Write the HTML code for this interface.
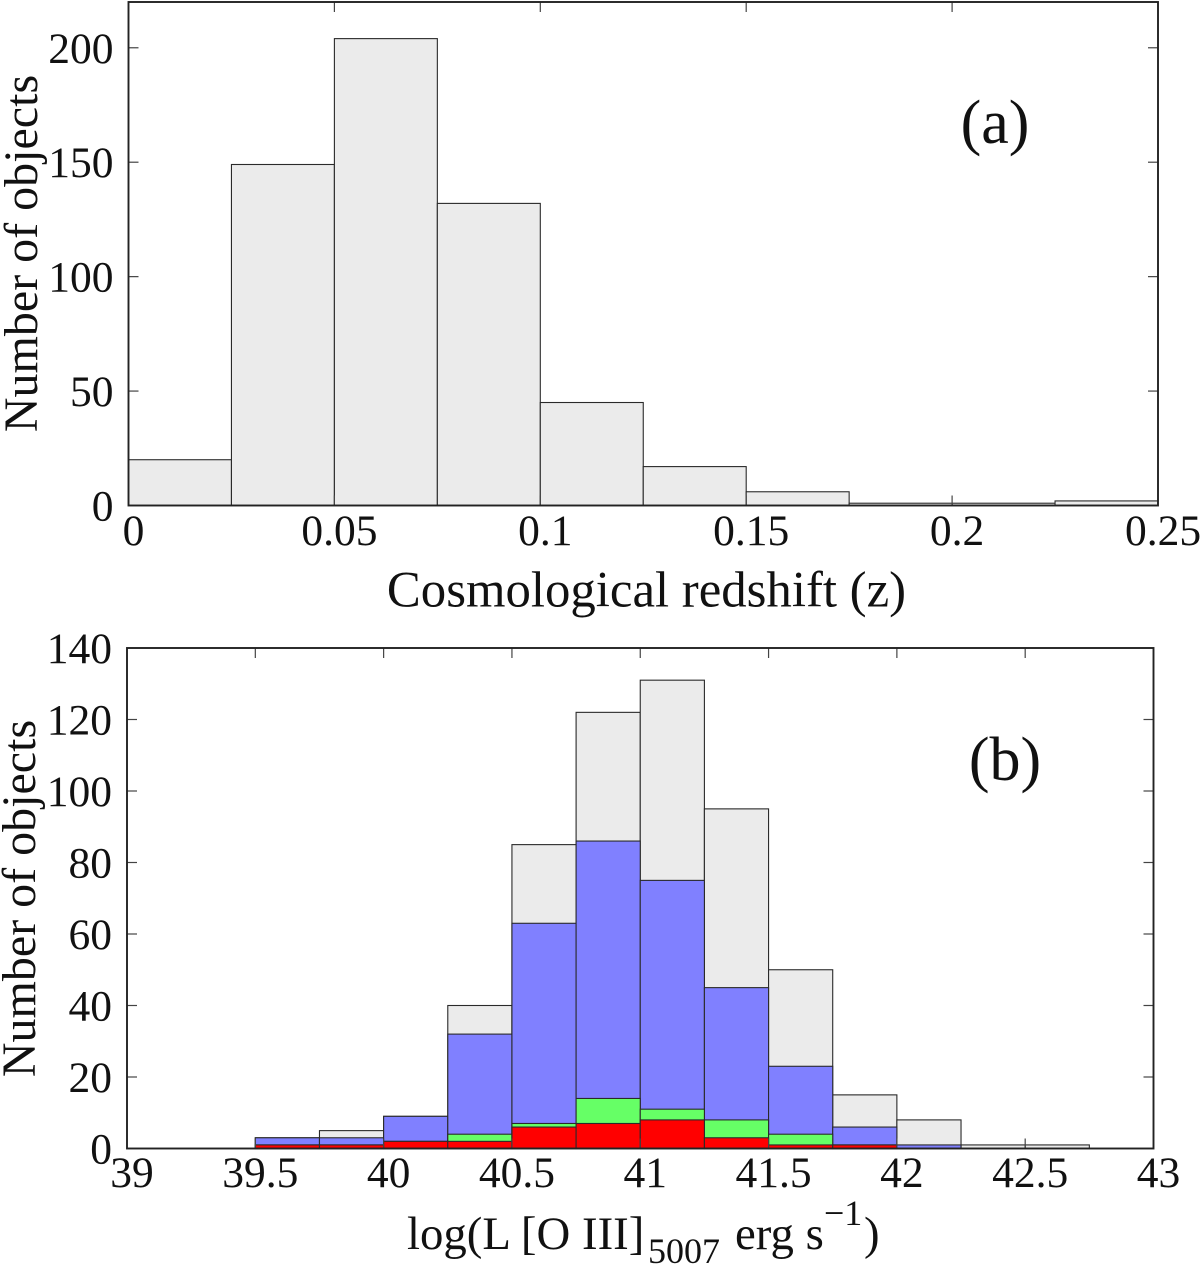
<!DOCTYPE html>
<html>
<head>
<meta charset="utf-8">
<title>Redshift and luminosity histograms</title>
<style>
html,body{margin:0;padding:0;background:#fff;}
svg{display:block;}
text{font-family:"Liberation Serif",serif;fill:#111;}
</style>
</head>
<body>
<svg id="chart" width="1200" height="1266" viewBox="0 0 1200 1266" xmlns="http://www.w3.org/2000/svg">
  <g id="panel-a"></g>
  <g id="panel-b"></g>
  <text x="646.5" y="606.5" font-size="50.8" text-anchor="middle">Cosmological redshift (z)</text>
  <text transform="translate(37 253.5) rotate(-90)" font-size="48" text-anchor="middle">Number of objects</text>
  <text x="995" y="143" font-size="62" text-anchor="middle">(a)</text>
  <text y="1249" font-size="46.8"><tspan x="407">log(L [O III]</tspan><tspan x="648" y="1263" font-size="36">5007</tspan><tspan x="735" y="1249">erg s</tspan><tspan x="824" y="1225" font-size="36">−1</tspan><tspan x="864" y="1249">)</tspan></text>
  <text transform="translate(35 898.5) rotate(-90)" font-size="48" text-anchor="middle">Number of objects</text>
  <text x="1005" y="780" font-size="62" text-anchor="middle">(b)</text>
</svg>
<script>
// Panel (a): redshift histogram
const redshiftBinStart = 0;
const redshiftBinWidth = 0.025;
const redshiftCounts = [20, 149, 204, 132, 45, 17, 6, 1, 1, 2];
const redshiftXTicks = [0, 0.05, 0.1, 0.15, 0.2, 0.25];
const redshiftXTickLabels = ["0", "0.05", "0.1", "0.15", "0.2", "0.25"];
const redshiftYTicks = [0, 50, 100, 150, 200];
const redshiftYTickLabels = ["0", "50", "100", "150", "200"];

// Panel (b): luminosity histogram, overlaid series (back to front)
const luminosityBinStart = 39.5;
const luminosityBinWidth = 0.25;
const luminosityAll = [3, 5, 9, 40, 85, 122, 131, 95, 50, 15, 8, 1, 1];
const luminosityBlue = [3, 3, 9, 32, 63, 86, 75, 45, 23, 6, 1, 0, 0];
const luminosityGreen = [1, 1, 2, 4, 7, 14, 11, 8, 4, 1, 0, 0, 0];
const luminosityRed = [1, 1, 2, 2, 6, 7, 8, 3, 1, 1, 0, 0, 0];
const luminosityXTicks = [39, 39.5, 40, 40.5, 41, 41.5, 42, 42.5, 43];
const luminosityXTickLabels = ["39", "39.5", "40", "40.5", "41", "41.5", "42", "42.5", "43"];
const luminosityYTicks = [0, 20, 40, 60, 80, 100, 120, 140];
const luminosityYTickLabels = ["0", "20", "40", "60", "80", "100", "120", "140"];

const SVG_NS = "http://www.w3.org/2000/svg";

function makeScale(d0, d1, r0, r1) {
  return function (v) { return r0 + (v - d0) * (r1 - r0) / (d1 - d0); };
}

function drawBars(root, seriesName, values, start, width, fill, sx, sy) {
  values.forEach(function (v, i) {
    if (v <= 0) return;
    const x0 = sx(start + i * width);
    const x1 = sx(start + (i + 1) * width);
    const y0 = sy(v);
    const y1 = sy(0);
    const r = document.createElementNS(SVG_NS, "rect");
    r.setAttribute("x", x0);
    r.setAttribute("y", y0);
    r.setAttribute("width", x1 - x0);
    r.setAttribute("height", y1 - y0);
    r.setAttribute("fill", fill);
    r.setAttribute("stroke", "#2a2a2a");
    r.setAttribute("stroke-width", "1.1");
    
    
    root.appendChild(r);
  });
}

function drawLine(root, x1, y1, x2, y2, stroke, w, name) {
  const l = document.createElementNS(SVG_NS, "line");
  l.setAttribute("x1", x1);
  l.setAttribute("y1", y1);
  l.setAttribute("x2", x2);
  l.setAttribute("y2", y2);
  l.setAttribute("stroke", stroke);
  l.setAttribute("stroke-width", w);
  
  
  root.appendChild(l);
}

function drawLabel(root, x, y, str, anchor, name) {
  const t = document.createElementNS(SVG_NS, "text");
  t.setAttribute("x", x);
  t.setAttribute("y", y);
  t.setAttribute("font-size", "43.5");
  t.setAttribute("text-anchor", anchor);
  
  
  t.textContent = str;
  root.appendChild(t);
}

function drawAxes(root, box, sx, sy, xTicks, xLabels, yTicks, yLabels) {
  const tickLen = 10;
  xTicks.forEach(function (v, i) {
    const x = sx(v);
    if (i > 0 && i < xTicks.length - 1) {
      drawLine(root, x, box.bottom, x, box.bottom - tickLen, "#444", 1.2, "x-tick");
      drawLine(root, x, box.top, x, box.top + tickLen, "#444", 1.2, "x-tick-top");
    }
    drawLabel(root, x + 5, box.xLabelY, xLabels[i], "middle", "x-tick-label");
  });
  yTicks.forEach(function (v, i) {
    const y = sy(v);
    if (i > 0 && y > box.top + 2) {
      drawLine(root, box.left, y, box.left + tickLen, y, "#444", 1.2, "y-tick");
      drawLine(root, box.right, y, box.right - tickLen, y, "#444", 1.2, "y-tick-right");
    }
    drawLabel(root, box.yLabelX, y + 15, yLabels[i], "end", "y-tick-label");
  });
  const f = document.createElementNS(SVG_NS, "rect");
  f.setAttribute("x", box.left);
  f.setAttribute("y", box.top);
  f.setAttribute("width", box.right - box.left);
  f.setAttribute("height", box.bottom - box.top);
  f.setAttribute("fill", "none");
  f.setAttribute("stroke", "#222");
  f.setAttribute("stroke-width", "1.9");
  
  
  root.appendChild(f);
}

const panelA = document.getElementById("panel-a");
const boxA = { left: 128.5, right: 1158, top: 2, bottom: 505.5, xLabelY: 545, yLabelX: 113.5 };
const sxA = makeScale(0, 0.25, boxA.left, boxA.right);
const syA = makeScale(0, 220, boxA.bottom, boxA.top);
drawBars(panelA, "redshift", redshiftCounts, redshiftBinStart, redshiftBinWidth, "#ebebeb", sxA, syA);
drawAxes(panelA, boxA, sxA, syA, redshiftXTicks, redshiftXTickLabels, redshiftYTicks, redshiftYTickLabels);

const panelB = document.getElementById("panel-b");
const boxB = { left: 127, right: 1153.5, top: 648, bottom: 1148.5, xLabelY: 1187, yLabelX: 112 };
const sxB = makeScale(39, 43, boxB.left, boxB.right);
const syB = makeScale(0, 140, boxB.bottom, boxB.top);
drawBars(panelB, "all-objects", luminosityAll, luminosityBinStart, luminosityBinWidth, "#ebebeb", sxB, syB);
drawBars(panelB, "blue-class", luminosityBlue, luminosityBinStart, luminosityBinWidth, "#8080ff", sxB, syB);
drawBars(panelB, "green-class", luminosityGreen, luminosityBinStart, luminosityBinWidth, "#66ff66", sxB, syB);
drawBars(panelB, "red-class", luminosityRed, luminosityBinStart, luminosityBinWidth, "#ff0000", sxB, syB);
drawAxes(panelB, boxB, sxB, syB, luminosityXTicks, luminosityXTickLabels, luminosityYTicks, luminosityYTickLabels);
</script>
</body>
</html>
